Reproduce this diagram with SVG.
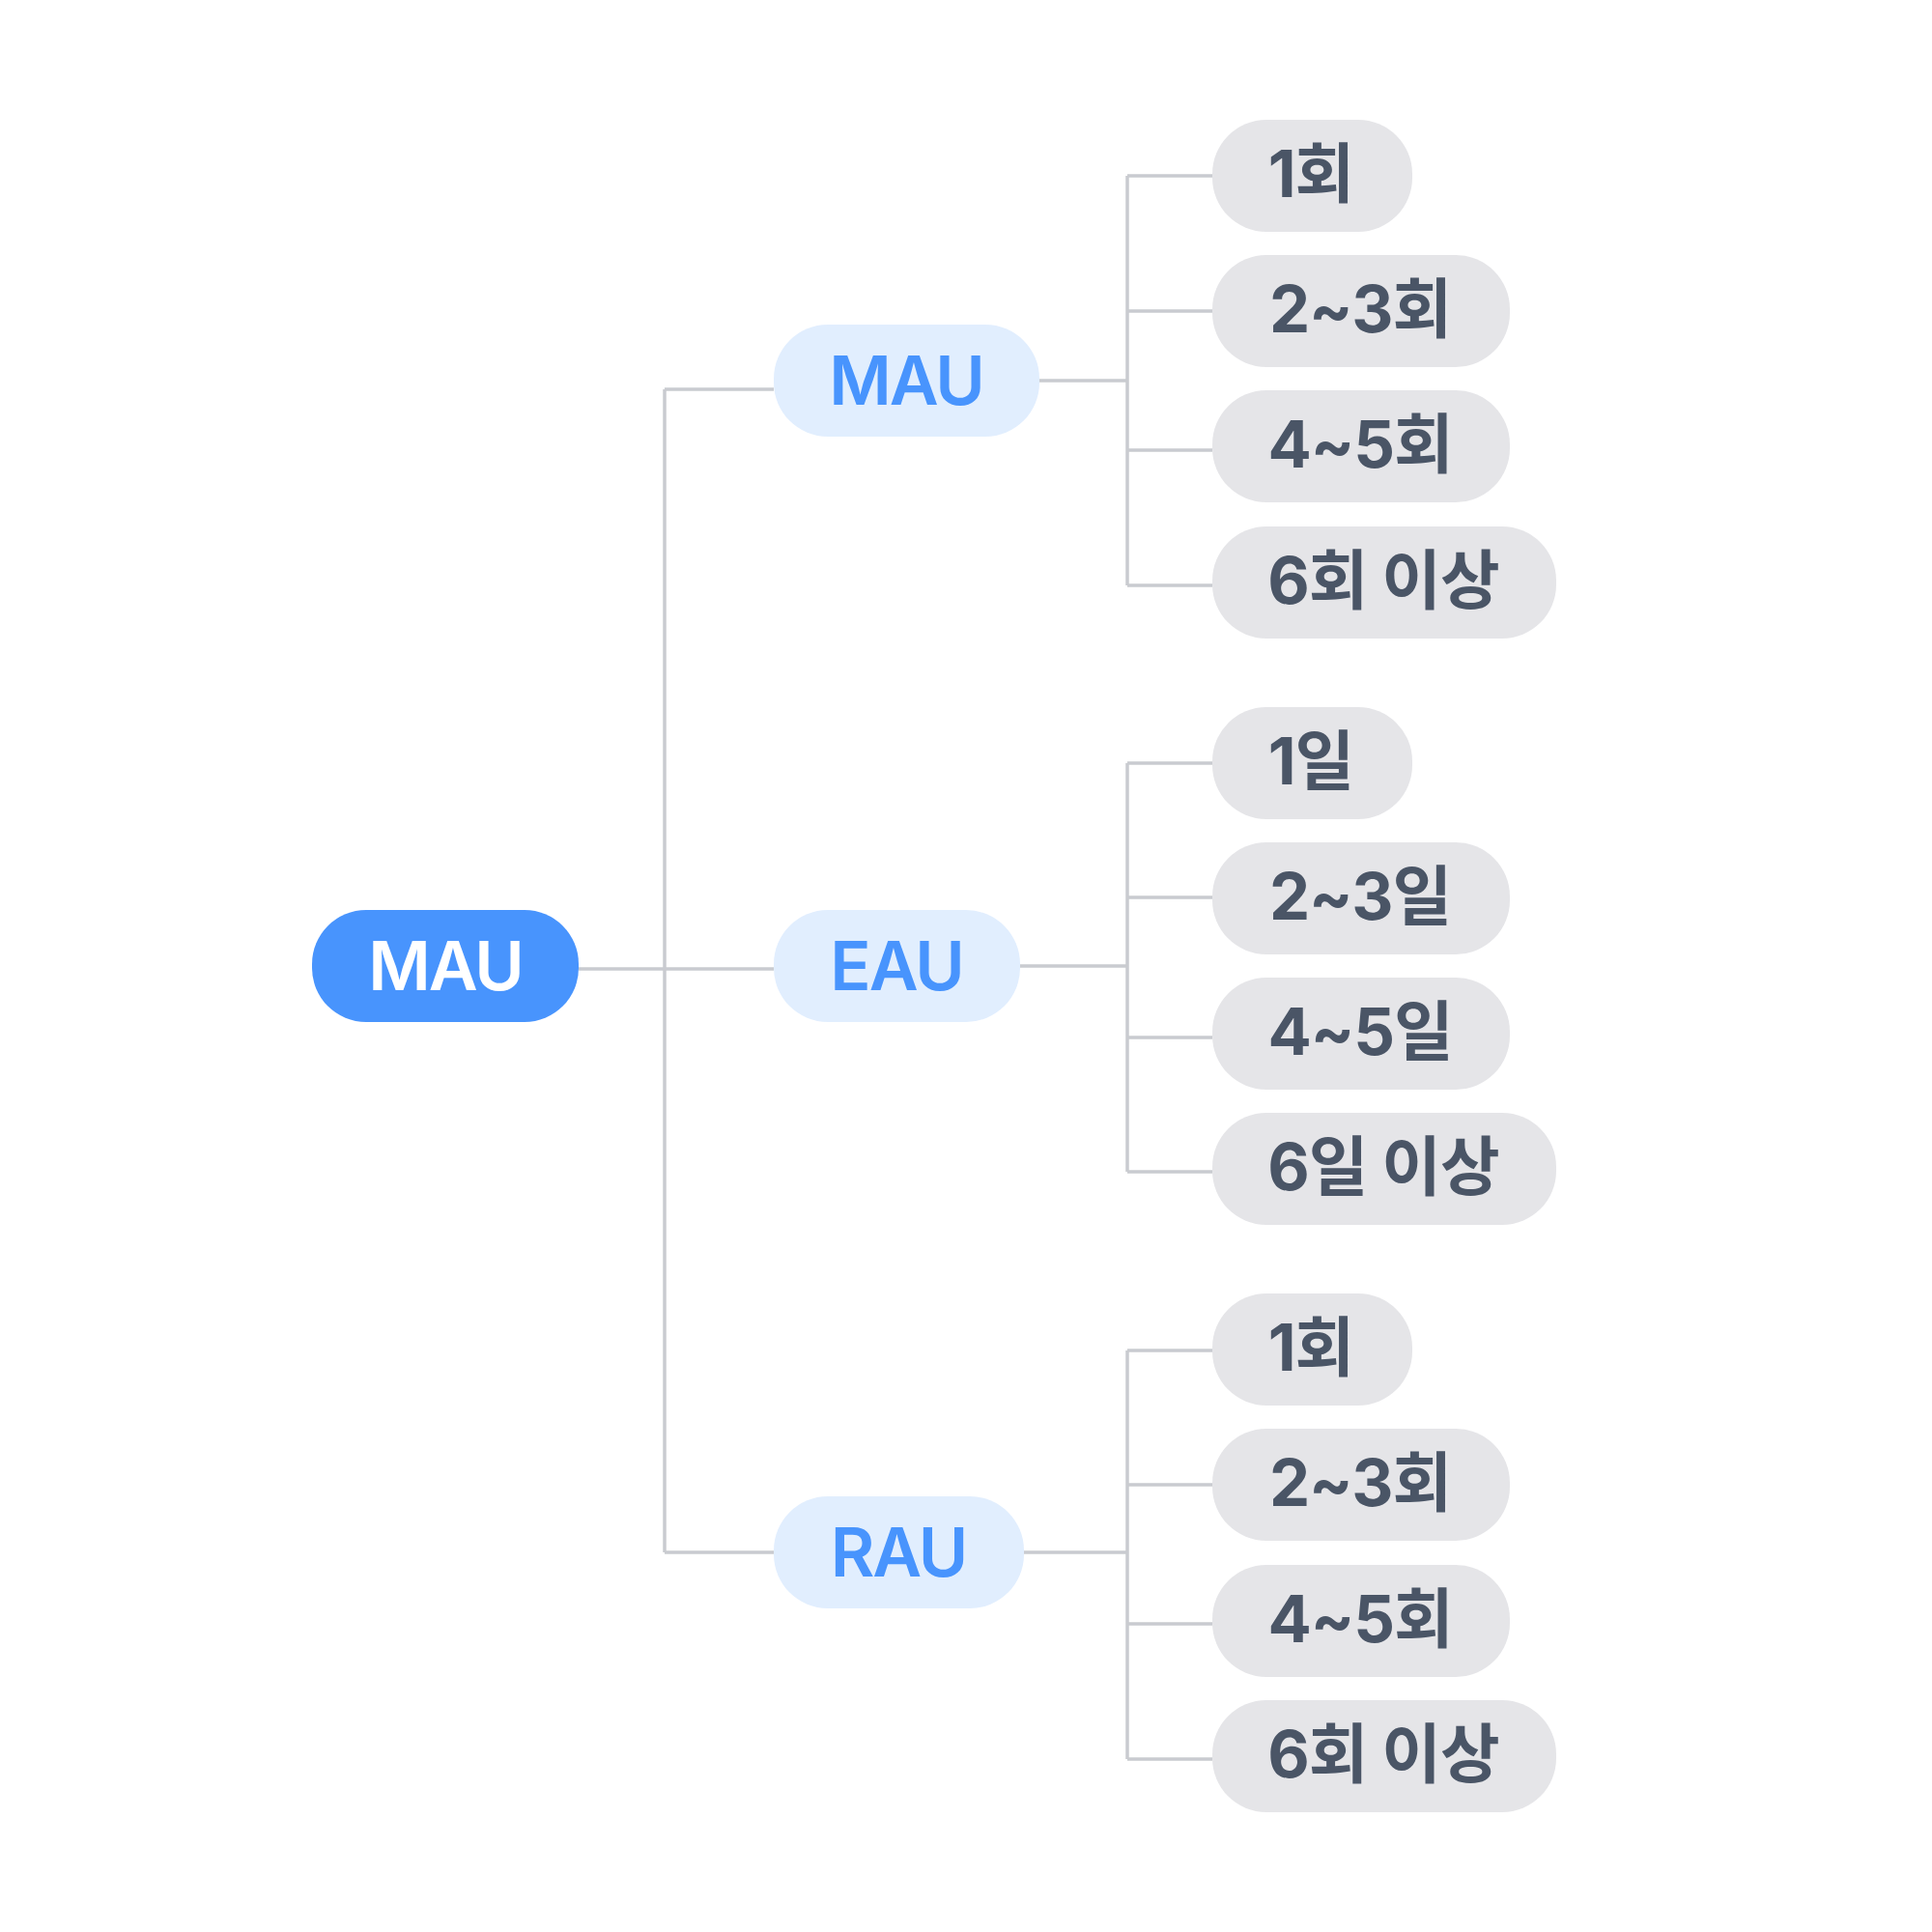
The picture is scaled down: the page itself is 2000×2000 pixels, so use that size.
<svg xmlns="http://www.w3.org/2000/svg" width="2000" height="2000" viewBox="0 0 2000 2000">
<style>
.root rect{fill:#4894fd}
.root text{fill:#ffffff}
.mid rect{fill:#e1eefe}
.mid text{fill:#4894fd}
.leaf rect{fill:#e5e5e8}
.leaf text{fill:#4a5566}
text{font-family:Inter,"Noto Sans CJK KR",sans-serif;font-weight:700;text-anchor:middle}
.root text,.mid text{font-size:70px;font-weight:600;letter-spacing:-2px}
.leaf text{font-size:67px;letter-spacing:-1px}
.conn path{fill:none;stroke:#c9cbd0;stroke-width:3.5}
</style>
<rect width="2000" height="2000" fill="#ffffff"/>
<g class="conn" id="connectors">
<path d="M599 1003H688M688 403V1607M688 403H801M688 1003H801M688 1607H801"/>
<path d="M1076 394H1167M1167 182V606M1167 182H1255M1167 322H1255M1167 466H1255M1167 606H1255"/>
<path d="M1056 1000H1167M1167 790V1213M1167 790H1255M1167 929H1255M1167 1074H1255M1167 1213H1255"/>
<path d="M1060 1607H1167M1167 1398V1821M1167 1398H1255M1167 1537H1255M1167 1681H1255M1167 1821H1255"/>
</g>
<g class="root" id="root"><rect x="323" y="942" width="276" height="116" rx="56"/><text x="461" y="1025">MAU</text></g>
<g class="mid" id="mid-mau"><rect x="801" y="336" width="275" height="116" rx="56"/><text x="938" y="419">MAU</text></g>
<g class="mid" id="mid-eau"><rect x="801" y="942" width="255" height="116" rx="56"/><text x="928" y="1025">EAU</text></g>
<g class="mid" id="mid-rau"><rect x="801" y="1549" width="259" height="116" rx="56"/><text x="930" y="1632">RAU</text></g>
<g class="leaf" id="a1"><rect x="1255" y="124" width="207" height="116" rx="56"/><text x="1357" y="204">1회</text></g>
<g class="leaf" id="a2"><rect x="1255" y="264" width="308" height="116" rx="56"/><text x="1408" y="344">2~3회</text></g>
<g class="leaf" id="a3"><rect x="1255" y="404" width="308" height="116" rx="56"/><text x="1408" y="484">4~5회</text></g>
<g class="leaf" id="a4"><rect x="1255" y="545" width="356" height="116" rx="56"/><text x="1432" y="625">6회 이상</text></g>
<g class="leaf" id="b1"><rect x="1255" y="732" width="207" height="116" rx="56"/><text x="1357" y="812">1일</text></g>
<g class="leaf" id="b2"><rect x="1255" y="872" width="308" height="116" rx="56"/><text x="1408" y="952">2~3일</text></g>
<g class="leaf" id="b3"><rect x="1255" y="1012" width="308" height="116" rx="56"/><text x="1408" y="1092">4~5일</text></g>
<g class="leaf" id="b4"><rect x="1255" y="1152" width="356" height="116" rx="56"/><text x="1432" y="1232">6일 이상</text></g>
<g class="leaf" id="c1"><rect x="1255" y="1339" width="207" height="116" rx="56"/><text x="1357" y="1419">1회</text></g>
<g class="leaf" id="c2"><rect x="1255" y="1479" width="308" height="116" rx="56"/><text x="1408" y="1559">2~3회</text></g>
<g class="leaf" id="c3"><rect x="1255" y="1620" width="308" height="116" rx="56"/><text x="1408" y="1700">4~5회</text></g>
<g class="leaf" id="c4"><rect x="1255" y="1760" width="356" height="116" rx="56"/><text x="1432" y="1840">6회 이상</text></g>
</svg>
